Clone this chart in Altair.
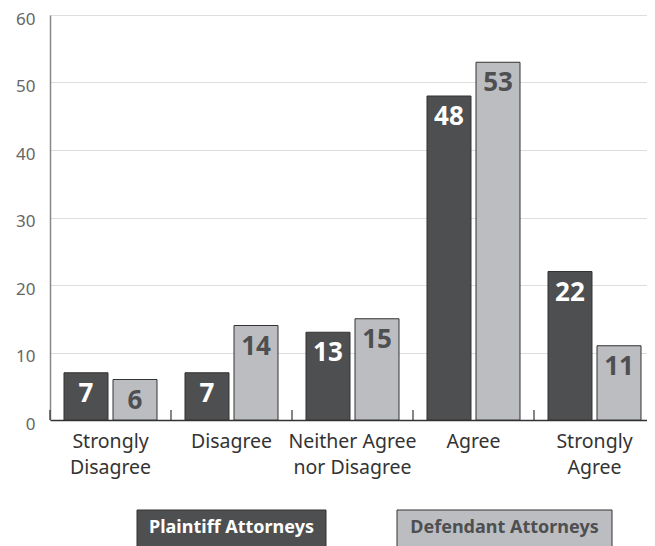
import altair as alt
import pandas as pd

categories = ["Strongly Disagree", "Disagree", "Neither Agree nor Disagree", "Agree", "Strongly Agree"]
category_lines = [["Strongly", "Disagree"], ["Disagree"], ["Neither Agree", "nor Disagree"], ["Agree"], ["Strongly", "Agree"]]
series = ["Plaintiff Attorneys", "Defendant Attorneys"]
plaintiff = [7, 7, 13, 48, 22]
defendant = [6, 14, 15, 53, 11]
y_ticks = [0, 10, 20, 30, 40, 50, 60]

fills = ["#4e4f51", "#bcbdc1"]
text_colors = ["#ffffff", "#4e4f51"]
FONT = "Noto Sans"

rows = []
for i, c in enumerate(categories):
    rows.append({"category": c, "series": series[0], "value": plaintiff[i]})
    rows.append({"category": c, "series": series[1], "value": defendant[i]})
df = pd.DataFrame(rows)

label_expr = " : ".join(
    f"datum.value == '{c}' ? {lines!r}" for c, lines in zip(categories, category_lines)
) + " : datum.label"

x_scale = alt.Scale(domain=categories, paddingInner=0, paddingOuter=0)
off_scale = alt.Scale(domain=series, paddingInner=5 / 49, paddingOuter=0.2857)
y_scale = alt.Scale(domain=[0, 60], nice=False)
color_scale = alt.Scale(domain=series, range=fills)

base = alt.Chart(df)

bars = base.mark_bar(stroke="#333333", strokeWidth=1).encode(
    x=alt.X("category:N", scale=x_scale, sort=categories, title=None,
            axis=alt.Axis(labelExpr=label_expr, labelAngle=0, ticks=False,
                          domainColor="#333333", domainWidth=1.5,
                          labelColor="#333333", labelFontSize=19.5, labelFont=FONT,
                          labelLineHeight=26, labelPadding=12, labelBaseline="top")),
    xOffset=alt.XOffset("series:N", scale=off_scale, sort=series),
    y=alt.Y("value:Q", scale=y_scale, title=None,
            axis=alt.Axis(values=y_ticks, ticks=False, domainColor="#888888",
                          domainWidth=1.5, gridColor="#dddddd", gridWidth=1,
                          labelColor="#666666", labelFontSize=17, labelFont=FONT,
                          labelPadding=15, labelOffset=4)),
    color=alt.Color("series:N", scale=color_scale, legend=None),
)

labels = base.mark_text(fontSize=26, fontWeight="bold", font=FONT, baseline="alphabetic", dy=29).encode(
    x=alt.X("category:N", sort=categories),
    xOffset=alt.XOffset("series:N", sort=series),
    y=alt.Y("value:Q"),
    text=alt.Text("value:Q"),
    color=alt.condition(alt.datum.series == series[0], alt.value(text_colors[0]), alt.value(text_colors[1])),
)

tick_df = pd.DataFrame({"category": categories})
ticks = alt.Chart(tick_df).mark_rule(color="#333333", strokeWidth=1.2).encode(
    x=alt.X("category:N", sort=categories, bandPosition=0),
    y=alt.datum(0),
    y2=alt.datum(1.5),
)

legend_df = pd.DataFrame({"series": series})
legend_centers = [181.5, 454.5]
legend_widths = [189, 215]

legend_layers = []
for s, cx, w, f, t in zip(series, legend_centers, legend_widths, fills, text_colors):
    sub = alt.Chart(legend_df).transform_filter(alt.datum.series == s)
    rect = sub.mark_rect(fill=f, stroke="#333333", strokeWidth=1).encode(
        x=alt.value(cx - w / 2), x2=alt.value(cx + w / 2),
        y=alt.value(495), y2=alt.value(545),
    )
    txt = sub.mark_text(
        fontSize=18, fontWeight="bold", font=FONT, color=t, baseline="middle"
    ).encode(
        x=alt.value(cx), y=alt.value(513), text="series:N",
    )
    legend_layers += [rect, txt]

chart = alt.layer(bars, labels, ticks, *legend_layers).properties(
    width=605, height=405,
    autosize=alt.AutoSizeParams(type="none"),
    padding={"left": 42, "top": 7, "right": -8, "bottom": 126},
).configure_view(stroke=None).configure(background="white")

chart.save("out.html", embed_options={"renderer": "svg", "actions": False})
